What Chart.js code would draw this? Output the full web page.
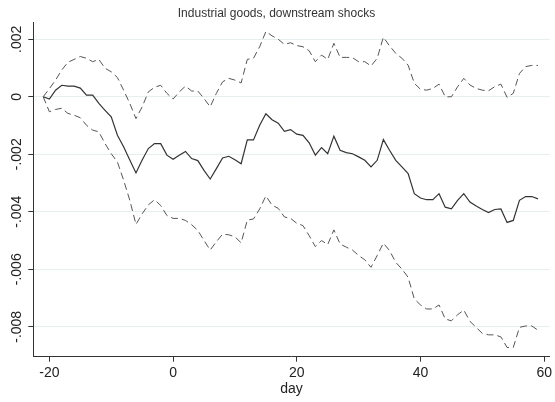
<!DOCTYPE html>
<html>
<head>
<meta charset="utf-8">
<script src="https://cdn.jsdelivr.net/npm/chart.js@4.4.1/dist/chart.umd.min.js"></script>
<style>
  html, body { margin: 0; padding: 0; background: #fff; }
  canvas { display: block; }
</style>
</head>
<body>
<canvas id="myChart" width="555" height="402"></canvas>
<script>
// days after the shock
const days = [-21, -20, -19, -18, -17, -16, -15, -14, -13, -12, -11, -10, -9, -8, -7, -6, -5, -4, -3, -2, -1,
  0, 1, 2, 3, 4, 5, 6, 7, 8, 9, 10, 11, 12, 13, 14, 15, 16, 17, 18, 19,
  20, 21, 22, 23, 24, 25, 26, 27, 28, 29, 30, 31, 32, 33, 34, 35, 36, 37, 38, 39,
  40, 41, 42, 43, 44, 45, 46, 47, 48, 49, 50, 51, 52, 53, 54, 55, 56, 57, 58, 59];

// point estimate (solid)
const estimate = [0, -0.00008, 0.00023, 0.0004, 0.00037, 0.00037, 0.0003, 0.00006, 0.00006, -0.00023, -0.00047, -0.0007, -0.00134, -0.00174, -0.0022, -0.00265, -0.0022, -0.0018, -0.00163, -0.00163, -0.00203,
  -0.00217, -0.00203, -0.0019, -0.00215, -0.00222, -0.00256, -0.00286, -0.0025, -0.00213, -0.00207, -0.00219, -0.00233, -0.0015, -0.0015, -0.00099, -0.00059, -0.0008, -0.00092, -0.0012, -0.00114,
  -0.0013, -0.00134, -0.0016, -0.00203, -0.00177, -0.00198, -0.00137, -0.00186, -0.00194, -0.00198, -0.00209, -0.00221, -0.00244, -0.00221, -0.00149, -0.00186, -0.00221, -0.00244, -0.00267, -0.00337,
  -0.00352, -0.00358, -0.00358, -0.00337, -0.00384, -0.0039, -0.0036, -0.00337, -0.00366, -0.0038, -0.00392, -0.00403, -0.00392, -0.0039, -0.00437, -0.0043, -0.0036, -0.00347, -0.00347, -0.00355];

// upper confidence band (dashed)
const upper = [0, 0.00028, 0.00058, 0.00093, 0.0012, 0.0013, 0.0014, 0.00134, 0.00122, 0.0013, 0.00099, 0.00087, 0.00067, 0.00023, -0.00023, -0.00076, -0.00035, 0.00017, 0.00033, 0.0004, 0.00012,
  -0.00008, 0.00017, 0.00037, 0.0002, 0.0002, -0.00006, -0.00035, 0.00012, 0.00052, 0.00064, 0.00058, 0.00048, 0.0013, 0.00134, 0.00174, 0.00227, 0.00212, 0.002, 0.00182, 0.00188,
  0.00178, 0.00174, 0.0016, 0.00122, 0.00145, 0.0013, 0.00186, 0.00137, 0.00137, 0.00136, 0.00122, 0.00122, 0.00107, 0.00134, 0.00207, 0.00177, 0.00151, 0.00134, 0.0011, 0.00047,
  0.00026, 0.00023, 0.00029, 0.00044, 0, 0, 0.00035, 0.00064, 0.00041, 0.00029, 0.00023, 0.00021, 0.00035, 0.00044, -0.00002, 0.00012, 0.00081, 0.00105, 0.00109, 0.00109];

// lower confidence band (dashed)
const lower = [0, -0.00052, -0.00044, -0.0004, -0.00058, -0.00064, -0.00073, -0.00099, -0.00116, -0.00122, -0.00163, -0.00198, -0.00227, -0.0029, -0.0036, -0.00444, -0.00407, -0.00376, -0.00358, -0.00378, -0.00413,
  -0.00423, -0.00423, -0.0043, -0.00445, -0.00465, -0.005, -0.00533, -0.00504, -0.00478, -0.0048, -0.00487, -0.00508, -0.00429, -0.00425, -0.0039, -0.00345, -0.00377, -0.00388, -0.00418, -0.00423,
  -0.0044, -0.00448, -0.00483, -0.00521, -0.005, -0.00514, -0.00463, -0.00512, -0.00523, -0.00533, -0.00552, -0.00567, -0.00593, -0.00552, -0.00509, -0.00535, -0.00576, -0.00599, -0.00628, -0.00703,
  -0.00724, -0.00738, -0.00738, -0.00724, -0.00773, -0.00779, -0.00758, -0.00742, -0.00781, -0.00802, -0.00823, -0.00828, -0.00828, -0.00835, -0.00872, -0.00872, -0.00802, -0.00797, -0.00797, -0.00812];

// axis ticks
const xTicks = [-20, 0, 20, 40, 60];
const yTicks = [-0.008, -0.006, -0.004, -0.002, 0, 0.002];
const yTickLabels = ['-.008', '-.006', '-.004', '-.002', '0', '.002'];

const FONT = '"Liberation Sans", Arial, Helvetica, sans-serif';
const toPoints = arr => arr.map((v, i) => ({ x: days[i], y: v }));

// y labels are rotated (Stata style), so they are drawn here
const yLabelPlugin = {
  id: 'yLabels',
  afterDraw(chart) {
    const yScale = chart.scales.y;
    const c = chart.ctx;
    c.save();
    c.font = '14px ' + FONT;
    c.fillStyle = '#222';
    c.textAlign = 'center';
    c.textBaseline = 'alphabetic';
    yTicks.forEach((v, i) => {
      c.save();
      c.translate(20.5, yScale.getPixelForValue(v));
      c.rotate(-Math.PI / 2);
      c.fillText(yTickLabels[i], 0, 0);
      c.restore();
    });
    c.restore();
  }
};

const ctx = document.querySelector('#myChart').getContext('2d');
const chart = new Chart(ctx, {
  type: 'line',
  data: {
    datasets: [
      {
        label: 'upper',
        data: toPoints(upper),
        borderColor: '#555',
        borderWidth: 1,
        borderDash: [7, 4]
      },
      {
        label: 'estimate',
        data: toPoints(estimate),
        borderColor: '#333',
        borderWidth: 1.2
      },
      {
        label: 'lower',
        data: toPoints(lower),
        borderColor: '#555',
        borderWidth: 1,
        borderDash: [7, 4]
      }
    ]
  },
  options: {
    responsive: false,
    animation: false,
    layout: { autoPadding: false, padding: { right: 2 } },
    elements: {
      point: { radius: 0 },
      line: { tension: 0, fill: false }
    },
    scales: {
      x: {
        type: 'linear',
        min: -22.6,
        max: 60.9,
        afterBuildTicks: s => { s.ticks = xTicks.map(v => ({ value: v })); },
        afterFit: s => { s.height = 45.3; },
        grid: { drawOnChartArea: false, tickLength: 5, tickColor: '#333' },
        border: { color: '#333', width: 1 },
        ticks: { font: { family: FONT, size: 14 }, color: '#222', padding: 3, maxRotation: 0 },
        title: { display: true, text: 'day', font: { family: FONT, size: 14 }, color: '#222', padding: { top: 0, bottom: 4.6 } }
      },
      y: {
        min: -0.00904,
        max: 0.00259,
        afterBuildTicks: s => { s.ticks = yTicks.map(v => ({ value: v })); },
        afterFit: s => { s.width = 33.3; },
        grid: { color: '#e6eef0', tickLength: 5, tickColor: '#333' },
        border: { color: '#333', width: 1 },
        ticks: { display: false }
      }
    },
    plugins: {
      legend: { display: false },
      tooltip: { enabled: false },
      title: {
        display: true,
        text: 'Industrial goods, downstream shocks',
        font: { family: FONT, size: 12, weight: 'normal' },
        color: '#333',
        padding: { top: 6, bottom: 1.9 }
      }
    }
  },
  plugins: [yLabelPlugin]
});
</script>
</body>
</html>
